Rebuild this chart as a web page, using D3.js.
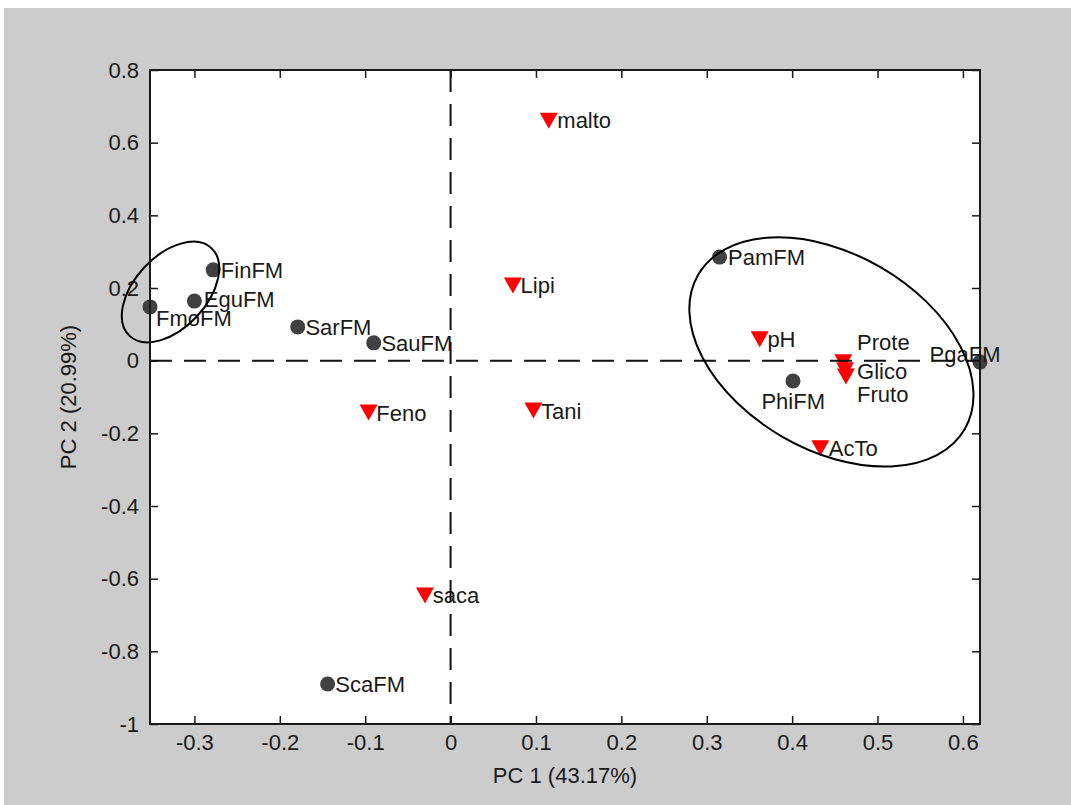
<!DOCTYPE html>
<html>
<head>
<meta charset="utf-8">
<script src="https://cdn.jsdelivr.net/npm/d3@7/dist/d3.min.js"></script>
<style>
  html, body { margin: 0; padding: 0; background: #ffffff; }
  svg { display: block; }
  text { font-family: "Liberation Sans", Arial, Helvetica, sans-serif; }
</style>
</head>
<body>
<svg id="chart" width="1071" height="805"></svg>
<script>
// Sample scores (PCA objects)
const sampleNames = ["FinFM", "EguFM", "FmoFM", "SarFM", "SauFM", "PamFM", "PhiFM", "PgaFM", "ScaFM"];
const sampleX = [-0.278, -0.300, -0.352, -0.179, -0.090, 0.315, 0.401, 0.620, -0.144];
const sampleY = [0.250, 0.164, 0.148, 0.093, 0.049, 0.285, -0.056, -0.004, -0.890];
// Label anchors for the samples (data units)
const sampleLabelX = [-0.269, -0.289, -0.345, -0.170, -0.081, 0.325, 0.364, 0.561, -0.135];
const sampleLabelY = [0.250, 0.169, 0.116, 0.093, 0.049, 0.285, -0.111, 0.018, -0.890];

// Variable loadings
const varNames = ["malto", "Lipi", "pH", "Prote", "Glico", "Fruto", "AcTo", "Feno", "Tani", "saca"];
const varX = [0.115, 0.073, 0.362, 0.460, 0.462, 0.463, 0.433, -0.096, 0.097, -0.030];
const varY = [0.662, 0.208, 0.060, -0.003, -0.025, -0.042, -0.240, -0.141, -0.136, -0.645];
const varLabelX = [0.125, 0.082, 0.371, 0.476, 0.476, 0.476, 0.443, -0.087, 0.106, -0.021];
const varLabelY = [0.662, 0.208, 0.060, 0.052, -0.028, -0.091, -0.240, -0.144, -0.138, -0.645];

// Axis ticks
const xTicks = [-0.3, -0.2, -0.1, 0, 0.1, 0.2, 0.3, 0.4, 0.5, 0.6];
const yTicks = [-1, -0.8, -0.6, -0.4, -0.2, 0, 0.2, 0.4, 0.6, 0.8];
const yLimits = [-1, 0.8];
const xTitle = "PC 1 (43.17%)";
const yTitle = "PC 2 (20.99%)";

// Group outlines: centre in data units, semi-axes in px, rotation in degrees
const groupCX = [-0.328, 0.446];
const groupCY = [0.189, 0.024];
const groupRX = [60, 154];
const groupRY = [36, 98];
const groupRot = [-47, 30];

const svg = d3.select("#chart");
const W = 1071, H = 805;
const plot = { left: 150, right: 980, top: 70, bottom: 724 };

// figure background
svg.append("rect").attr("x", 4).attr("y", 8).attr("width", W - 4).attr("height", H - 8)
  .attr("fill", "#cccccc");

const x = d3.scaleLinear().domain(d3.extent(sampleX)).range([plot.left, plot.right]);
const y = d3.scaleLinear().domain(yLimits).range([plot.bottom, plot.top]);

// axes area
svg.append("rect").attr("x", plot.left).attr("y", plot.top)
  .attr("width", plot.right - plot.left).attr("height", plot.bottom - plot.top)
  .attr("fill", "#ffffff");

// tick labels with a plain hyphen for negatives
const fmt = v => {
  if (Math.abs(v) < 1e-9) return "0";
  return String(+v.toFixed(2));
};

const tickLen = 8;
const axisColor = "#1a1a1a";
const fontSize = 22;

// bottom axis with inward ticks
const gx = svg.append("g").attr("transform", `translate(0,${plot.bottom})`)
  .call(d3.axisBottom(x).tickValues(xTicks).tickSizeInner(-tickLen).tickSizeOuter(0).tickPadding(tickLen + 12).tickFormat(fmt));
const gxTop = svg.append("g").attr("transform", `translate(0,${plot.top})`)
  .call(d3.axisTop(x).tickValues(xTicks).tickSizeInner(-tickLen).tickSizeOuter(0).tickFormat(""));
const gy = svg.append("g").attr("transform", `translate(${plot.left},0)`)
  .call(d3.axisLeft(y).tickValues(yTicks).tickSizeInner(-tickLen).tickSizeOuter(0).tickPadding(tickLen + 11).tickFormat(fmt));
const gyRight = svg.append("g").attr("transform", `translate(${plot.right},0)`)
  .call(d3.axisRight(y).tickValues(yTicks).tickSizeInner(-tickLen).tickSizeOuter(0).tickFormat(""));

[gx, gxTop, gy, gyRight].forEach(g => {
  g.select(".domain").remove();
  g.selectAll(".tick line").attr("stroke", axisColor).attr("stroke-width", 1.5);
  g.selectAll(".tick text").attr("fill", "#1a1a1a")
    .attr("font-size", fontSize).attr("font-family", "Liberation Sans, Arial, sans-serif");
});
// keep the bottom tick labels snug under the axis
gx.selectAll(".tick text").attr("y", 10).attr("dy", "0.71em");
gy.selectAll(".tick text").attr("x", -11);

// points (samples)
svg.append("g").selectAll("circle").data(sampleNames).join("circle")
  .attr("cx", (d, i) => x(sampleX[i]))
  .attr("cy", (d, i) => y(sampleY[i]))
  .attr("r", 7.5)
  .attr("fill", "#404040");

// downward triangles (variables)
const tri = 9;
svg.append("g").selectAll("path").data(varNames).join("path")
  .attr("d", (d, i) => {
    const cx = x(varX[i]), cy = y(varY[i]);
    return `M${cx - tri},${cy - 7.5}L${cx + tri},${cy - 7.5}L${cx},${cy + 8.5}Z`;
  })
  .attr("fill", "#ff0000");

// labels
const labels = svg.append("g").attr("font-size", fontSize).attr("fill", "#1a1a1a");
labels.selectAll("text.s").data(sampleNames).join("text").attr("class", "s")
  .attr("x", (d, i) => x(sampleLabelX[i]))
  .attr("y", (d, i) => y(sampleLabelY[i]))
  .attr("dy", "0.36em")
  .text(d => d);
labels.selectAll("text.v").data(varNames).join("text").attr("class", "v")
  .attr("x", (d, i) => x(varLabelX[i]))
  .attr("y", (d, i) => y(varLabelY[i]))
  .attr("dy", "0.36em")
  .text(d => d);

// dashed reference lines through the origin
svg.append("line")
  .attr("x1", x(0)).attr("x2", x(0)).attr("y1", plot.top).attr("y2", plot.bottom)
  .attr("stroke", "#111").attr("stroke-width", 2).attr("stroke-dasharray", "22,12");
svg.append("line")
  .attr("x1", plot.left).attr("x2", plot.right).attr("y1", y(0)).attr("y2", y(0))
  .attr("stroke", "#111").attr("stroke-width", 2).attr("stroke-dasharray", "22,12");

// group outlines
svg.append("g").selectAll("ellipse").data(groupCX).join("ellipse")
  .attr("cx", 0).attr("cy", 0)
  .attr("rx", (d, i) => groupRX[i]).attr("ry", (d, i) => groupRY[i])
  .attr("transform", (d, i) => `translate(${x(groupCX[i])},${y(groupCY[i])}) rotate(${groupRot[i]})`)
  .attr("fill", "none").attr("stroke", "#000").attr("stroke-width", 2);

// axes box
svg.append("rect").attr("x", plot.left).attr("y", plot.top)
  .attr("width", plot.right - plot.left).attr("height", plot.bottom - plot.top)
  .attr("fill", "none").attr("stroke", axisColor).attr("stroke-width", 2);

// axis titles
svg.append("text").attr("x", (plot.left + plot.right) / 2).attr("y", 783)
  .attr("text-anchor", "middle").attr("font-size", fontSize).attr("fill", "#1a1a1a")
  .text(xTitle);
svg.append("text")
  .attr("transform", `translate(76,${(plot.top + plot.bottom) / 2}) rotate(-90)`)
  .attr("text-anchor", "middle").attr("font-size", fontSize).attr("fill", "#1a1a1a")
  .text(yTitle);
</script>
</body>
</html>
